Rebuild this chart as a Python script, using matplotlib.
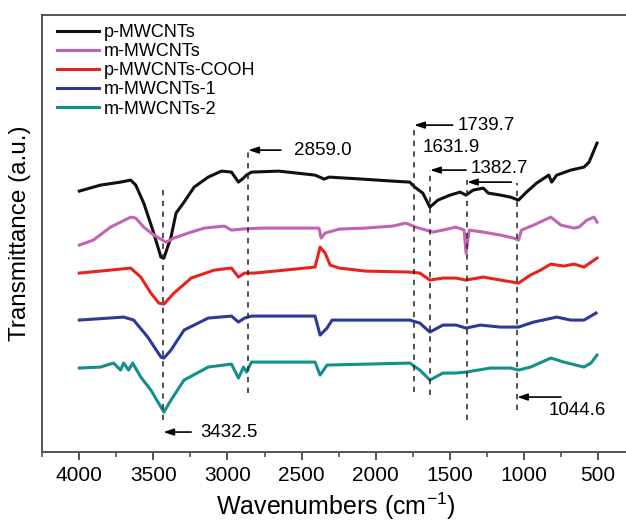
import matplotlib
matplotlib.use("Agg")
import matplotlib.pyplot as plt
from matplotlib.ticker import MultipleLocator

plt.rcParams["font.family"] = ["Liberation Sans", "DejaVu Sans"]

# FTIR spectra, stacked (arbitrary transmittance units)
labels = ["p-MWCNTs", "m-MWCNTs", "p-MWCNTs-COOH", "m-MWCNTs-1", "m-MWCNTs-2"]
colors = ["#111111", "#c264b4", "#e8231d", "#2c3a97", "#12918a"]

p_wn = [4000, 3857, 3721, 3653, 3619, 3565, 3504, 3449, 3429, 3381, 3347, 3293,
        3225, 3130, 3041, 2973, 2926, 2892, 2872, 2838, 2654, 2409, 2362, 2348,
        2314, 2090, 1886, 1770, 1736, 1682, 1634, 1580, 1498, 1430, 1390, 1342,
        1274, 1240, 1158, 1090, 1036, 982, 914, 832, 812, 778, 683, 594, 560, 506]
p_t = [261, 267, 270, 272, 267, 249, 222, 195, 194, 215, 239, 250,
       265, 275, 281, 280, 270, 274, 277, 280, 281, 277, 274, 273,
       275, 273, 271, 270, 265, 259, 245, 252, 257, 260, 257, 262,
       264, 259, 257, 255, 252, 260, 269, 277, 270, 277, 282, 285, 290, 309]

m_wn = [4000, 3905, 3789, 3721, 3653, 3619, 3565, 3497, 3415, 3361, 3266, 3157,
        3021, 2973, 2906, 2770, 2409, 2382, 2368, 2341, 2246, 2069, 1886, 1797,
        1729, 1614, 1546, 1458, 1403, 1390, 1369, 1274, 1158, 1070, 1036, 1016,
        934, 818, 750, 662, 628, 574, 526, 506]
m_t = [207, 212, 225, 230, 235, 234, 225, 217, 210, 214, 219, 224,
       226, 222, 223, 224, 224, 224, 214, 219, 223, 224, 226, 229,
       225, 220, 222, 225, 222, 199, 222, 220, 217, 214, 212, 222,
       227, 235, 227, 224, 225, 232, 235, 230]

cooh_wn = [4000, 3789, 3653, 3585, 3517, 3463, 3429, 3361, 3245, 3089, 2973, 2926,
           2885, 2817, 2409, 2375, 2341, 2307, 2246, 2069, 1770, 1702, 1634, 1546,
           1458, 1390, 1274, 1158, 1036, 955, 887, 818, 730, 662, 594, 506]
cooh_t = [179, 182, 184, 175, 159, 149, 148, 159, 174, 182, 184, 175,
          179, 179, 185, 205, 199, 187, 184, 181, 180, 179, 172, 174,
          174, 172, 175, 172, 169, 177, 182, 188, 186, 188, 185, 194]

m1_wn = [4000, 3701, 3633, 3538, 3449, 3429, 3381, 3293, 3130, 2973, 2926, 2885,
         2838, 2409, 2375, 2328, 2294, 1770, 1702, 1634, 1546, 1458, 1390, 1294,
         1158, 1036, 934, 778, 683, 594, 513]
m1_t = [132, 135, 132, 115, 95, 94, 102, 122, 134, 136, 130, 134,
        136, 136, 117, 124, 132, 132, 129, 120, 127, 127, 124, 127,
        125, 125, 130, 135, 132, 132, 139]

m2_wn = [4000, 3857, 3769, 3721, 3701, 3667, 3640, 3585, 3517, 3449, 3429, 3381,
         3293, 3130, 2973, 2926, 2892, 2872, 2838, 2409, 2375, 2328, 1770, 1702,
         1634, 1546, 1458, 1390, 1226, 1090, 1036, 955, 818, 730, 594, 547, 506]
m2_t = [84, 85, 89, 82, 89, 82, 89, 75, 62, 45, 40, 52,
        72, 85, 88, 74, 85, 80, 90, 90, 77, 87, 89, 82,
        72, 79, 79, 80, 84, 84, 82, 85, 94, 90, 85, 89, 97]

spectra = [(p_wn, p_t), (m_wn, m_t), (cooh_wn, cooh_t), (m1_wn, m1_t), (m2_wn, m2_t)]

# marked bands: position, dashed line span, arrow height/tail, label anchor
peaks = [3432.5, 2859.0, 1739.7, 1631.9, 1382.7, 1044.6]
peak_span = [(32, 267), (59, 300), (60, 327), (57, 282), (32, 272), (42, 269)]
arrow_y = [20, 302, 327, 282, 270, 55]
arrow_tail = [3245, 2640, 1480, 1390, 1084, 750]
label_xy = [(3184, 20), (2552, 302), (1444, 327), (1682, 305), (1356, 284), (832, 42)]

fig = plt.figure(figsize=(6.26, 5.22), dpi=100)
ax = fig.add_axes([0.067, 0.134, 0.94, 0.837])

for (wn, t), lab, c in zip(spectra, labels, colors):
    ax.plot(wn, t, color=c, lw=2.2, label=lab, solid_joinstyle="round")

for x, (y0, y1), ya, xt, (lx, ly) in zip(peaks, peak_span, arrow_y, arrow_tail, label_xy):
    ax.plot([x, x], [y0, y1], color="#222222", lw=1.1, dashes=(3.5, 3.5))
    ax.annotate("", xy=(x, ya), xytext=(xt, ya),
                arrowprops=dict(arrowstyle="-|>,head_length=0.6,head_width=0.2",
                                color="black", lw=1.2, shrinkA=0, shrinkB=0))
    ax.text(lx, ly, f"{x:.1f}", fontsize=13.5, ha="left", va="center")

ax.set_xlim(4252, 281)
ax.set_ylim(0, 437)
ax.set_yticks([])
ax.xaxis.set_major_locator(MultipleLocator(500))
ax.xaxis.set_minor_locator(MultipleLocator(250))
ax.tick_params(axis="x", which="major", direction="out", length=6, width=1.3,
               labelsize=15, pad=4, color="#444444")
ax.tick_params(axis="x", which="minor", direction="out", length=3.5, width=1.1,
               color="#444444")

for side in ["left", "bottom", "top"]:
    ax.spines[side].set_linewidth(1.4)
    ax.spines[side].set_color("#555555")
ax.spines["right"].set_visible(False)

ax.set_xlabel("Wavenumbers (cm$^{\\mathregular{-1}}$)", fontsize=18, labelpad=4)
ax.set_ylabel("Transmittance (a.u.)", fontsize=17.5, labelpad=8)

ax.legend(loc="upper left", bbox_to_anchor=(0.026, 0.98), frameon=False,
          fontsize=13, handlelength=2.3, handletextpad=0.3, labelspacing=0.12,
          borderpad=0, borderaxespad=0)

fig.savefig("out.png", dpi=100)
